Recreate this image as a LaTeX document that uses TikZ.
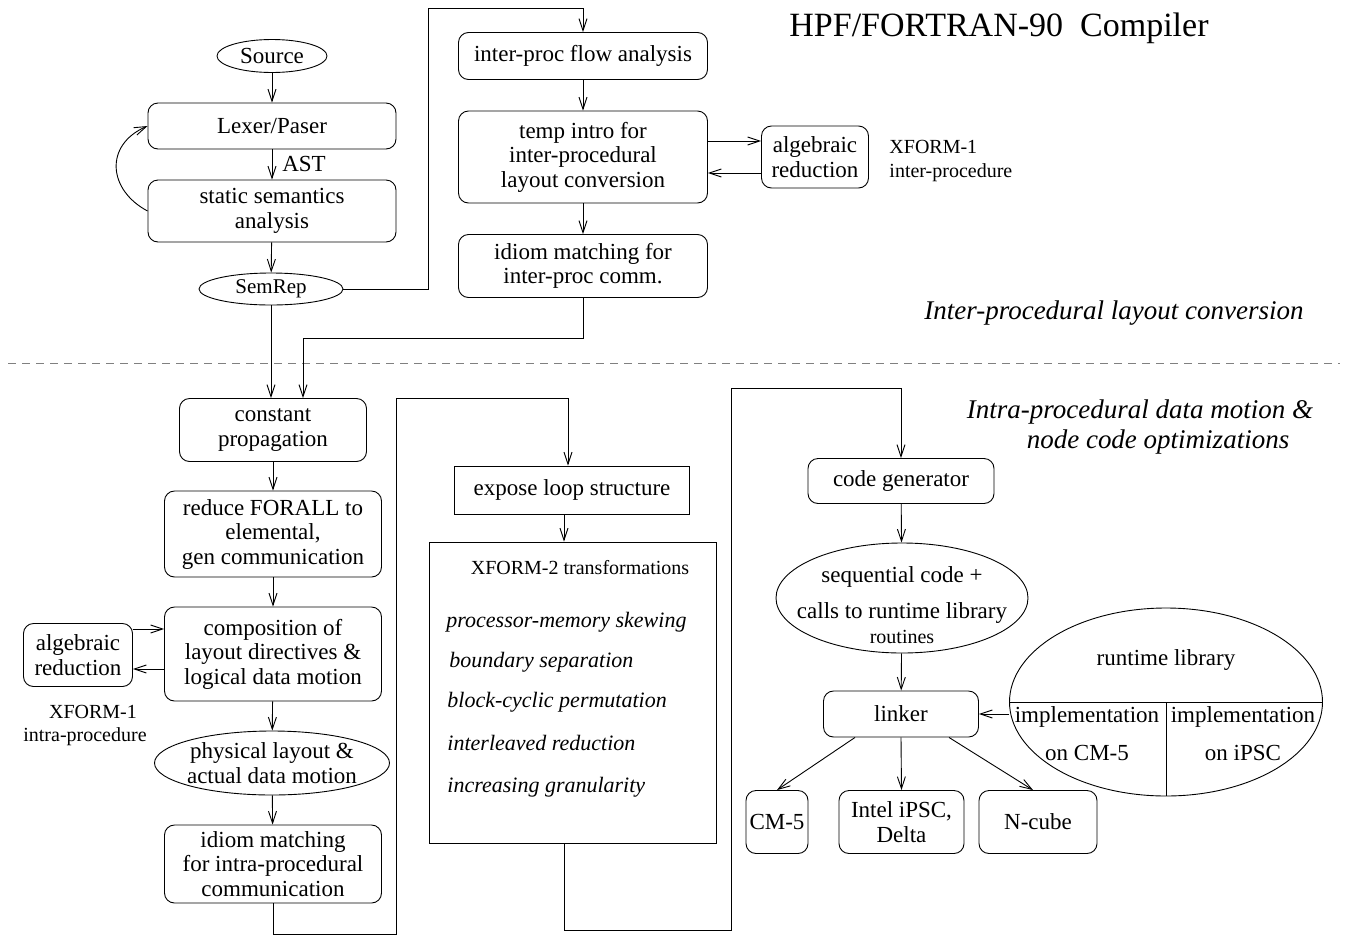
\documentclass[tikz,border=0pt]{standalone}
\usepackage{fontspec}
\setmainfont{Liberation Serif}
\usetikzlibrary{arrows.meta,shapes.geometric}
\begin{document}
\begin{tikzpicture}[x=1pt,y=-1pt,
  line width=0.9pt,
  every node/.style={font=\fontsize{23}{24.5}\selectfont, inner sep=0pt},
  box/.style={draw, rounded corners=10pt, align=center},
  sbox/.style={draw, align=center},
  ell/.style={draw, ellipse, align=center, inner sep=-30pt},
  arr/.style={-{Straight Barb[length=12pt,width=8pt]}},
  sm/.style={font=\fontsize{20}{24}\selectfont},
  md/.style={font=\fontsize{21}{24}\selectfont},
  it/.style={font=\fontsize{22}{24}\selectfont\itshape},
  bigit/.style={font=\fontsize{27}{30}\selectfont\itshape},
]
\useasboundingbox (0,0) rectangle (1350,935);

% ---------- upper part ----------
\node[ell, minimum width=110, minimum height=33] (src) at (272,56) {Source};
\node[box, minimum width=248, minimum height=46] (lex) at (272,126) {Lexer/Paser};
\node[box, minimum width=248, minimum height=62] (ssa) at (272,211) {static semantics\\analysis};
\node[ell, md, minimum width=144, minimum height=32] (sem) at (271,289) {SemRep};
\node (ast) at (304,164) {AST};

\node[box, minimum width=249, minimum height=47] (ipf) at (583,56) {inter-proc flow analysis};
\node[box, minimum width=249, minimum height=92] (tmp) at (583,157) {temp intro for\\inter-procedural\\layout conversion};
\node[box, minimum width=249, minimum height=63] (idi) at (583,266) {idiom matching for\\inter-proc comm.};
\node[box, minimum width=107, minimum height=62] (alg1) at (815,157) {algebraic\\reduction};
\node[sm, anchor=west, align=left] (xf1a) at (889,161) {XFORM-1\\inter-procedure};
\node[font=\fontsize{34}{36}\selectfont] (title) at (999,28) {HPF/FORTRAN-90~~Compiler};
\node[bigit] (inter) at (1114,313) {Inter-procedural layout conversion};

\draw[gray, dash pattern=on 8pt off 6pt] (8,363) -- (1340,363);

% ---------- lower part ----------
\node[box, minimum width=187, minimum height=63] (cp) at (273,430) {constant\\propagation};
\node[box, minimum width=217, minimum height=86] (rf) at (273,534) {reduce FORALL to\\elemental,\\gen communication};
\node[box, minimum width=217, minimum height=94] (comp) at (273,654) {composition of\\layout directives \&\\logical data motion};
\node[box, minimum width=109, minimum height=63] (alg2) at (78,655) {algebraic\\reduction};
\node[sm] (xf1b) at (93,712) {XFORM-1};
\node[sm] (xf1c) at (85,737) {intra-procedure};
\node[ell, minimum width=235, minimum height=64] (phys) at (272,763) {physical layout \&\\actual data motion};
\node[box, minimum width=217, minimum height=78] (idi2) at (273,864) {idiom matching\\for intra-procedural\\communication};

\node[sbox, minimum width=235, minimum height=48] (exp) at (572,490) {expose loop structure};
\node[sbox, minimum width=287, minimum height=301] (xf2) at (572.5,692.5) {};
\node[sm] (xf2t) at (580,568) {XFORM-2 transformations};
\node[it, anchor=west] (t1) at (446,622) {processor-memory skewing};
\node[it, anchor=west] (t2) at (449,662) {boundary separation};
\node[it, anchor=west] (t3) at (447,702) {block-cyclic permutation};
\node[it, anchor=west] (t4) at (447,743) {interleaved reduction};
\node[it, anchor=west] (t5) at (447,787) {increasing granularity};

\node[bigit] (intra1) at (1140,412) {Intra-procedural data motion \&};
\node[bigit] (intra2) at (1158,442) {node code optimizations};

\node[box, minimum width=186, minimum height=45] (cg) at (901,481) {code generator};
\node[ell, minimum width=252, minimum height=110] (seq) at (902,598) {};
\node (seq1) at (902,577) {sequential code +};
\node (seq2) at (902,613) {calls to runtime library};
\node[sm] (seq3) at (902,637) {routines};
\node[box, minimum width=155, minimum height=46] (link) at (901,714) {linker};
\node[ell, minimum width=313, minimum height=188] (rt) at (1166,702) {};
\draw (rt.west) -- (rt.east);
\draw (rt.center) -- (rt.south);
\node (rt0) at (1166,660) {runtime library};
\node (rt1) at (1087,717) {implementation};
\node (rt2) at (1087,753) {on CM-5};
\node (rt3) at (1243,717) {implementation};
\node (rt4) at (1243,753) {on iPSC};

\node[box, minimum width=62, minimum height=63] (cm5) at (777,822) {CM-5};
\node[box, minimum width=125, minimum height=63] (intel) at (901.5,822) {Intel iPSC,\\Delta};
\node[box, minimum width=118, minimum height=63] (ncube) at (1038,822) {N-cube};

% ---------- helper coordinates ----------
\coordinate (c1) at (428,8);
\coordinate (j1) at (303,338);
\coordinate (b1) at (396,934);
\coordinate (b2) at (396,398);
\coordinate (e568) at (568,398);
\coordinate (c564) at (564,0);
\coordinate (d1) at (731,930);
\coordinate (d2) at (731,388);
\coordinate (y141) at (0,141);
\coordinate (y173) at (0,173);
\coordinate (y629) at (0,629);
\coordinate (y669) at (0,669);
\coordinate (y714) at (0,714);

% ---------- connectors ----------
\draw[arr] (src) -- (lex);
\draw[arr] (lex) -- (ssa);
\draw[arr] (ssa.west) .. controls (108,190) and (104,145) .. (lex.west);
\draw[arr] (ssa) -- (sem);
\draw[arr] (sem.east) -| (c1) -| (ipf.north);
\draw[arr] (ipf) -- (tmp);
\draw[arr] (tmp) -- (idi);
\draw[arr] (tmp.east |- y141) -- (alg1.west |- y141);
\draw[arr] (alg1.west |- y173) -- (tmp.east |- y173);
\draw[arr] (idi.south) |- (j1) -- (j1 |- cp.north);
\draw[arr] (sem.south) -- (sem.south |- cp.north);
\draw[arr] (cp) -- (rf);
\draw[arr] (rf) -- (comp);
\draw[arr] (alg2.east |- y629) -- (comp.west |- y629);
\draw[arr] (comp.west |- y669) -- (alg2.east |- y669);
\draw[arr] (comp) -- (phys);
\draw[arr] (phys) -- (idi2);
\draw[arr] (idi2.south) |- (b1) -- (b2) -- (e568) -- (e568 |- exp.north);
\draw[arr] (exp.south -| c564) -- (xf2.north -| c564);
\draw[arr] (xf2.south -| c564) |- (d1) -- (d2) -| (cg.north);
\draw[arr] (cg) -- (seq);
\draw[arr] (seq) -- (link);
\draw[arr] (rt.west |- y714) -- (link.east |- y714);
\draw[arr] ([xshift=-46pt]link.south) -- (cm5.north);
\draw[arr] (link.south) -- (intel.north);
\draw[arr] ([xshift=48pt]link.south) -- ([xshift=-5pt]ncube.north);
\end{tikzpicture}
\end{document}
